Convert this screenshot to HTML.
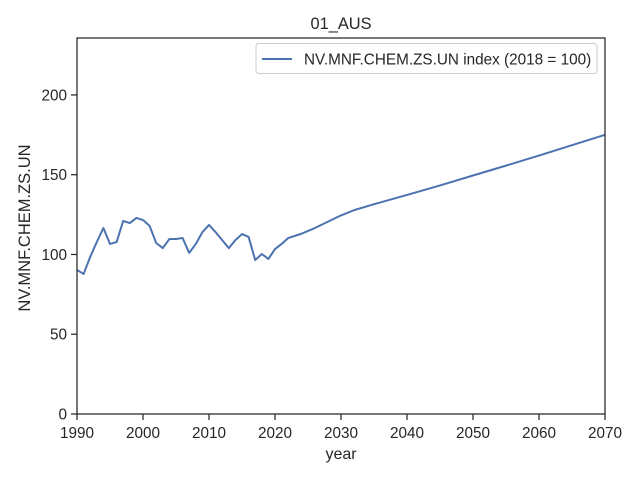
<!DOCTYPE html>
<html><head><meta charset="utf-8"><style>
html,body{margin:0;padding:0;background:#fff;}
svg text{font-family:"Liberation Sans","DejaVu Sans",sans-serif;fill:#262626;}
</style></head><body>
<svg id="chart" width="640" height="480" viewBox="0 0 640 480" xmlns="http://www.w3.org/2000/svg">
<rect x="0" y="0" width="640" height="480" fill="#fff"/>
<text x="341" y="29" font-size="16.4" text-anchor="middle">01_AUS</text>
<g id="axes"></g>
<g id="series"></g>
<rect x="77" y="38" width="528" height="376" fill="none" stroke="#262626" stroke-width="1.25"/>
<g>
<rect x="256" y="43.5" width="341" height="30" rx="3" fill="#fff" fill-opacity="0.8" stroke="#ccc"/>
<line x1="262" y1="59" x2="292" y2="59" stroke="#4c72b0" stroke-width="2"/>
<text x="304" y="64.5" font-size="15.3">NV.MNF.CHEM.ZS.UN index (2018 = 100)</text>
</g>
<text x="341" y="459" font-size="16" text-anchor="middle">year</text>
<text transform="translate(30,228) rotate(-90)" font-size="16.5" text-anchor="middle">NV.MNF.CHEM.ZS.UN</text>
</svg>
<script>
const years = [1990,1991,1992,1993,1994,1995,1996,1997,1998,1999,2000,2001,2002,2003,2004,2005,2006,2007,2008,2009,2010,2011,2012,2013,2014,2015,2016,2017,2018,2019,2020,2021,2022,2024,2026,2028,2030,2032,2035,2040,2045,2050,2055,2060,2065,2070];
const values = [90.3,87.8,98.5,107.8,116.6,106.6,107.8,121,119.7,122.9,121.6,117.9,107.2,104,109.7,109.7,110.3,101,106.6,114,118.5,114,109,104,109,112.8,111,96.5,100.3,97.2,103.4,106.6,110.3,113,116.5,120.5,124.5,127.8,131.5,137.3,143.3,149.5,155.7,162,168.5,175];
const xTicks = [1990,2000,2010,2020,2030,2040,2050,2060,2070];
const yTicks = [0,50,100,150,200];

const L=77,R=605,T=38,B=414;
const xMin=1990,xMax=2070,yMin=0,yMax=235.7;
function xs(v){return L+(v-xMin)/(xMax-xMin)*(R-L);}
function ys(v){return B-(v-yMin)/(yMax-yMin)*(B-T);}
const NS="http://www.w3.org/2000/svg";
const axes=document.getElementById('axes');
xTicks.forEach(t=>{
  const l=document.createElementNS(NS,'line');
  l.setAttribute('x1',xs(t));l.setAttribute('x2',xs(t));l.setAttribute('y1',B);l.setAttribute('y2',B+6);
  l.setAttribute('stroke','#262626');l.setAttribute('stroke-width','1.25');
  
  
  axes.appendChild(l);
  const tx=document.createElementNS(NS,'text');
  tx.setAttribute('x',xs(t));tx.setAttribute('y',B+24);tx.setAttribute('font-size','15.3');tx.setAttribute('text-anchor','middle');
  tx.textContent=t;
  
  
  axes.appendChild(tx);
});
yTicks.forEach(t=>{
  const l=document.createElementNS(NS,'line');
  l.setAttribute('x1',L-6);l.setAttribute('x2',L);l.setAttribute('y1',ys(t));l.setAttribute('y2',ys(t));
  l.setAttribute('stroke','#262626');l.setAttribute('stroke-width','1.25');
  
  
  axes.appendChild(l);
  const tx=document.createElementNS(NS,'text');
  tx.setAttribute('x',L-10);tx.setAttribute('y',ys(t)+5.5);tx.setAttribute('font-size','15.3');tx.setAttribute('text-anchor','end');
  tx.textContent=t;
  
  
  axes.appendChild(tx);
});
const p=document.createElementNS(NS,'polyline');
p.setAttribute('points',years.map((y,i)=>xs(y).toFixed(2)+','+ys(values[i]).toFixed(2)).join(' '));
p.setAttribute('fill','none');p.setAttribute('stroke','#4c72b0');p.setAttribute('stroke-width','2');p.setAttribute('stroke-linejoin','round');


document.getElementById('series').appendChild(p);
</script>
</body></html>
